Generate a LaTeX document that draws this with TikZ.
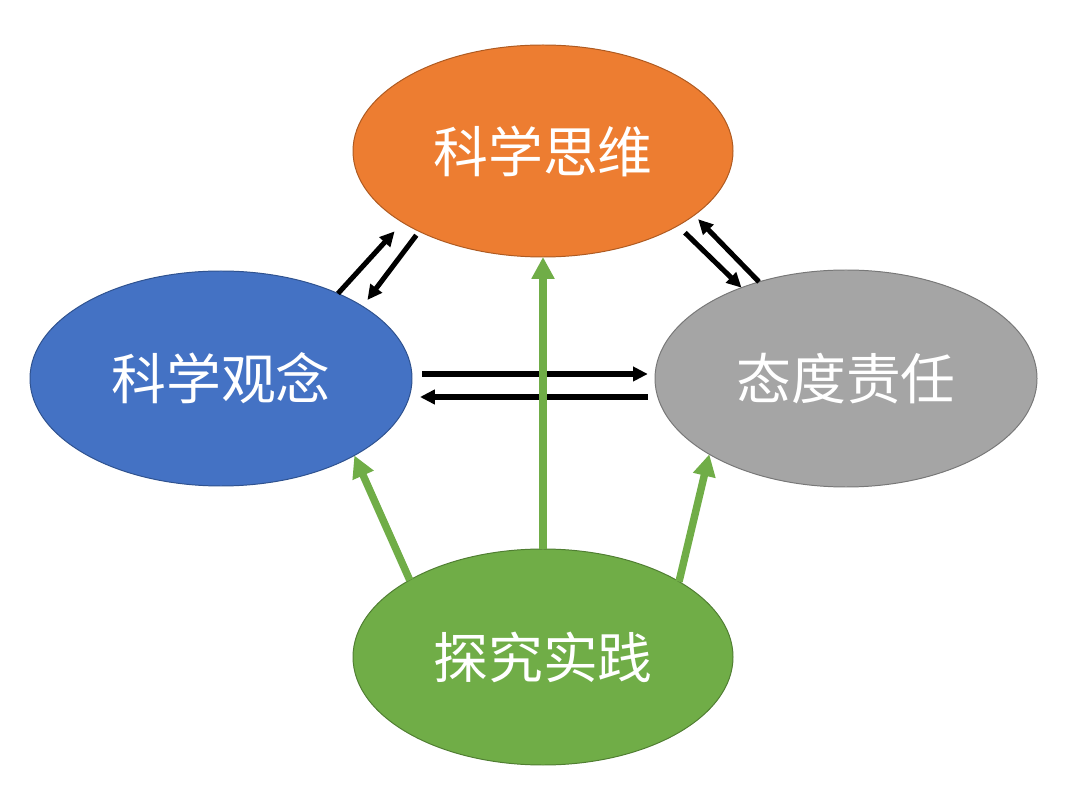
\documentclass[tikz,border=0pt]{standalone}
\usepackage{fontspec}
\newfontfamily\cjk{Noto Sans CJK SC}
\usetikzlibrary{shapes.geometric,arrows.meta}
\definecolor{thinkorange}{HTML}{ED7D31}
\definecolor{thinkedge}{HTML}{AE5A21}
\definecolor{conceptblue}{HTML}{4472C4}
\definecolor{conceptedge}{HTML}{2F528F}
\definecolor{attitudegray}{HTML}{A5A5A5}
\definecolor{attitudeedge}{HTML}{787878}
\definecolor{practicegreen}{HTML}{70AD47}
\definecolor{practiceedge}{HTML}{507E32}
\begin{document}
\begin{tikzpicture}[
  bubble/.style={ellipse,draw,line width=0.7pt,inner sep=0pt,outer sep=0pt,text=white,font=\cjk\fontsize{39}{39}\selectfont},
  link/.style={line width=3.6pt,-{Triangle[length=10.5pt,width=10pt]}},
  feed/.style={line width=5.3pt,draw=practicegreen,-{Triangle[length=15.5pt,width=15.5pt]}}]
\useasboundingbox (0,0) rectangle (27,19.625);
\node[bubble,fill=thinkorange,draw=thinkedge,minimum width=9.5cm,minimum height=5.3cm] (think) at (13.575,15.85) {科学思维};
\node[bubble,fill=conceptblue,draw=conceptedge,minimum width=9.55cm,minimum height=5.375cm] (concept) at (5.525,10.1625) {科学观念};
\node[bubble,fill=attitudegray,draw=attitudeedge,minimum width=9.55cm,minimum height=5.425cm] (attitude) at (21.15,10.1625) {态度责任};
\node[bubble,fill=practicegreen,draw=practiceedge,minimum width=9.5cm,minimum height=5.4cm] (practice) at (13.575,3.2) {探究实践};
\draw[link,shorten >=0.3cm] (concept.36) -- (think.207.5);
\draw[link,shorten <=0.12cm,shorten >=0.2cm] (think.213.7) -- (concept.27.5);
\draw[link,shorten <=0.25cm] (think.331.4) -- (attitude.139);
\draw[link,shorten >=0.14cm] (attitude.132) -- (think.337.7);
\draw[link,shorten <=0.25cm,shorten >=0.18cm] ([yshift=0.1125cm]concept.east) -- ([yshift=0.1125cm]attitude.west);
\draw[link,shorten <=0.18cm,shorten >=0.2cm] ([yshift=-0.4625cm]attitude.west) -- ([yshift=-0.4625cm]concept.east);
\draw[feed] (practice) -- (think);
\draw[feed] (practice.150.3) -- (concept.330.5);
\draw[feed] (practice.29.3) -- (attitude.209.7);
\end{tikzpicture}
\end{document}
